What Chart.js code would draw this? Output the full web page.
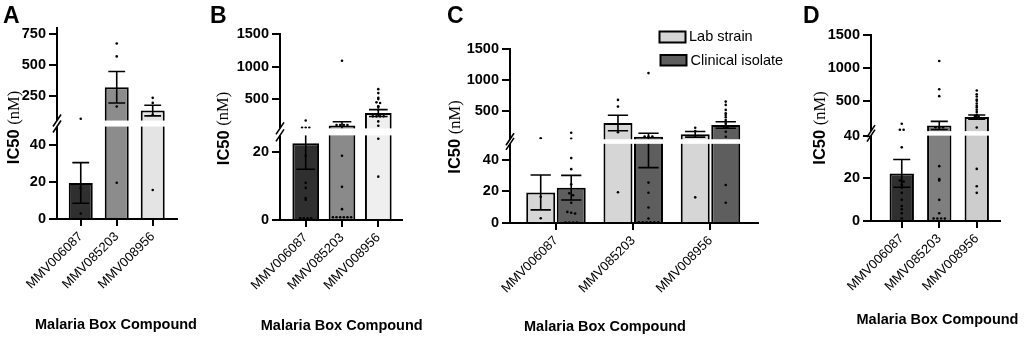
<!DOCTYPE html>
<html>
<head>
<meta charset="utf-8">
<script src="https://cdn.jsdelivr.net/npm/chart.js@4.4.0/dist/chart.umd.min.js"></script>
<style>
html, body { margin: 0; padding: 0; background: #fff; width: 1024px; height: 341px; overflow: hidden; }
canvas { position: absolute; top: 0; }
</style>
</head>
<body>
<script>
const compounds = ["MMV006087", "MMV085203", "MMV008956"];

// A - lab strain
const meanA = [19.5, 320, 131];
const semA = [11, 128, 43];
const dotsA = [[65, 16.6, 3], [675, 570, 164, 19.6], [234, 193, 97, 15.7]];
const ticksA = [0, 20, 40, 250, 500, 750];

// B - clinical isolates
const meanB = [22.7, 95, 285];
const semB = [7.7, 57, 53];
const dotsB = [
    [170, 60, 60, 60, 19, 11, 9.5, 6.5, 6, 0.5, 0.5, 0.5, 0.5],
    [1090, 100, 100, 100, 100, 19, 9.8, 3.2, 0.8, 0.8, 0.8, 0.8, 0.8, 0.8],
    [653, 592, 520, 500, 450, 440, 390, 380, 340, 235, 235, 235, 235, 157, 90, 24, 12.8]
];
const ticksB = [0, 20, 500, 1000, 1500];

// C - both side by side
const seriesC = ["Lab strain", "Clinical isolate"];
const labMeanC = [19.3, 311, 129];
const labSemC = [11, 125, 45];
const labDotsC = [[65, 16.6, 3], [682, 574, 161, 19.4], [235, 180, 103, 16.2]];
const clinMeanC = [22.3, 90, 279];
const clinSemC = [7.8, 55, 53];
const clinDotsC = [
    [155, 55, 41, 34, 24.5, 18.8, 17.5, 12.8, 7, 6.5, 6, 0.3, 0.3, 0.3, 0.3],
    [1113, 95, 95, 95, 25.5, 19.1, 9.8, 2.8, 0.5, 0.5, 0.5, 0.5, 0.5, 0.5],
    [655, 602, 521, 468, 440, 403, 360, 332, 300, 252, 240, 171, 90, 24, 12.8]
];
const ticksC = [0, 20, 40, 500, 1000, 1500];

// D - pooled
const meanD = [22.3, 126, 253];
const semD = [6.5, 62, 33];
const dotsD = [
    [152, 60, 60, 34.5, 19, 18.5, 17, 15.6, 13.2, 9.9, 7, 5.5, 3.6, 1.2],
    [1106, 677, 571, 100, 100, 100, 25.7, 19.6, 19, 9.9, 3.6, 1.2, 1.2, 1.2, 1.2],
    [656, 600, 565, 520, 500, 460, 424, 400, 364, 330, 288, 270, 260, 95, 24.4, 16.3, 13.2]
];
const ticksD = [0, 20, 40, 500, 1000, 1500];

const H = 341;
Chart.defaults.font.family = "'Liberation Sans', Arial, sans-serif";

// y axis with a gap: lower part 0..lowMax, upper part highMin..top
class BrokenScale extends Chart.LinearScale {
    determineDataLimits() {
        this.min = 0;
        this.max = this.options.brk.top;
    }
    buildTicks() {
        return this.options.brk.values.map(v => ({ value: v }));
    }
    segs() {
        const b = this.options.brk;
        const yLow = this.bottom - (this.bottom - this.top) * b.lowFrac;
        return { b, yLow, yHigh: yLow - b.gap };
    }
    getPixelForValue(v) {
        const { b, yLow, yHigh } = this.segs();
        if (v <= b.lowMax) return this.bottom - v / b.lowMax * (this.bottom - yLow);
        if (v < b.highMin) return yLow - (v - b.lowMax) / (b.highMin - b.lowMax) * b.gap;
        return yHigh - (v - b.highMin) / (b.top - b.highMin) * (yHigh - this.top);
    }
    getValueForPixel(p) {
        const { b, yLow, yHigh } = this.segs();
        if (p >= yLow) return (this.bottom - p) / (this.bottom - yLow) * b.lowMax;
        if (p > yHigh) return b.lowMax + (yLow - p) / b.gap * (b.highMin - b.lowMax);
        return b.highMin + (yHigh - p) / (yHigh - this.top) * (b.top - b.highMin);
    }
}
BrokenScale.id = "broken";
BrokenScale.defaults = {};
Chart.register(BrokenScale);

const panels = [
    {
        letter: "A", left: 0, w: 200, area: [57, 177, 28, 219],
        brk: { lowMax: 50, highMin: 50, top: 800, lowFrac: 0.484, gap: 6 }, ticks: ticksA,
        xr: [-0.66, 2.675], catPct: 1, barPct: 0.667, jit: 0.1,
        series: [{ label: "Lab strain", mean: meanA, sem: semA, dots: dotsA, color: ["#2f2f2f", "#8c8c8c", "#e4e4e4"] }],
        letterX: 3, yTitle: [14.7, 127.5], xTitle: [116, 325]
    },
    {
        letter: "B", left: 200, w: 230, area: [80, 202, 34, 220],
        brk: { lowMax: 25, highMin: 50, top: 1500, lowFrac: 0.455, gap: 7 }, ticks: ticksB,
        xr: [-0.708, 2.653], catPct: 1, barPct: 0.735, jit: 0.1,
        series: [{ label: "Clinical isolate", mean: meanB, sem: semB, dots: dotsB, color: ["#2f2f2f", "#8a8a8a", "#efefef"] }],
        letterX: 10, yTitle: [24, 128.5], xTitle: [141.7, 326]
    },
    {
        letter: "C", left: 430, w: 370, area: [80, 328, 49, 223],
        brk: { lowMax: 50, highMin: 50, top: 1500, lowFrac: 0.455, gap: 4.6 }, ticks: ticksC,
        xr: [-0.595, 2.615], catPct: 0.79, barPct: 0.95, jit: 0.05,
        series: [
            { label: seriesC[0], mean: labMeanC, sem: labSemC, dots: labDotsC, color: "#d6d6d6" },
            { label: seriesC[1], mean: clinMeanC, sem: clinSemC, dots: clinDotsC, color: "#5e5e5e" }
        ],
        legend: true,
        letterX: 17, yTitle: [25.7, 137], xTitle: [175, 327]
    },
    {
        letter: "D", left: 800, w: 224, area: [71, 200, 35, 221],
        brk: { lowMax: 40, highMin: 40, top: 1500, lowFrac: 0.459, gap: 4.5 }, ticks: ticksD,
        xr: [-0.82, 2.62], catPct: 1, barPct: 0.65, jit: 0.1,
        series: [{ label: "All", mean: meanD, sem: semD, dots: dotsD, color: ["#2f2f2f", "#7f7f7f", "#cdcdcd"] }],
        letterX: 3, yTitle: [20.7, 128], xTitle: [137.5, 320]
    }
];

// spread points that would sit on top of each other
function spread(vals, brk, step) {
    const key = v => v <= brk.lowMax
        ? "l" + Math.round(v / brk.lowMax * 30)
        : "h" + Math.round((v - brk.highMin) / (brk.top - brk.highMin) * 45);
    const count = {};
    vals.forEach(v => { count[key(v)] = (count[key(v)] || 0) + 1; });
    const seen = {};
    return vals.map(v => {
        const k = key(v);
        const idx = seen[k] = (seen[k] === undefined ? 0 : seen[k] + 1);
        return (idx - (count[k] - 1) / 2) * step;
    });
}

const decor = {
    id: "decor",
    afterDatasetDraw(chart, args) {
        const ds = chart.data.datasets[args.index];
        if (ds.type !== "bar") return;
        const ctx = chart.ctx;
        const y = chart.scales.y;
        ctx.save();
        ctx.strokeStyle = "#000";
        ctx.lineWidth = 1.6;
        args.meta.data.forEach((bar, i) => {
            const m = ds.data[i].y, e = ds.sem[i];
            const y1 = y.getPixelForValue(Math.max(0, m - e));
            const y2 = y.getPixelForValue(m + e);
            const cap = bar.width * 0.35;
            ctx.beginPath();
            ctx.moveTo(bar.x, y1); ctx.lineTo(bar.x, y2);
            ctx.moveTo(bar.x - cap, y1); ctx.lineTo(bar.x + cap, y1);
            ctx.moveTo(bar.x - cap, y2); ctx.lineTo(bar.x + cap, y2);
            ctx.stroke();
        });
        ctx.restore();
    },
    afterDatasetsDraw(chart) {
        const ctx = chart.ctx, a = chart.chartArea;
        const { yLow, yHigh } = chart.scales.y.segs();
        ctx.save();
        ctx.fillStyle = "#fff";
        ctx.fillRect(a.left - 2, yHigh, a.right - a.left + 2, yLow - yHigh);
        ctx.strokeStyle = "#000";
        ctx.lineWidth = 1.6;
        ctx.beginPath();
        [yHigh, yLow].forEach(yy => {
            ctx.moveTo(a.left - 4, yy + 6);
            ctx.lineTo(a.left + 4, yy - 6);
        });
        ctx.stroke();
        ctx.restore();
    },
    afterDraw(chart) {
        const p = chart.options.plugins.decor;
        const ctx = chart.ctx;
        ctx.save();
        ctx.fillStyle = "#000";
        // panel letter
        ctx.font = "bold 23px 'Liberation Sans'";
        ctx.textBaseline = "alphabetic";
        ctx.textAlign = "left";
        ctx.fillText(p.letter, p.letterX, 23);
        // x title
        ctx.font = "bold 14.5px 'Liberation Sans'";
        ctx.textAlign = "center";
        ctx.textBaseline = "middle";
        ctx.fillText("Malaria Box Compound", p.xTitle[0], p.xTitle[1]);
        // y title, two fonts
        const f1 = "bold 16.5px 'Liberation Sans'", f2 = "16.5px 'Liberation Serif'";
        ctx.font = f1; const w1 = ctx.measureText("IC50 ").width;
        ctx.font = f2; const w2 = ctx.measureText("(nM)").width;
        ctx.translate(p.yTitle[0], p.yTitle[1]);
        ctx.rotate(-Math.PI / 2);
        ctx.textAlign = "left";
        ctx.font = f1; ctx.fillText("IC50 ", -(w1 + w2) / 2, 0);
        ctx.font = f2; ctx.fillText("(nM)", -(w1 + w2) / 2 + w1, 0);
        ctx.restore();
        if (p.legend) {
            const boxes = [[229.5, 31.5, 26, 11, 259, 37], [230.5, 55, 26, 10.5, 260.5, 60.5]];
            ctx.save();
            ctx.font = "14.5px 'Liberation Sans'";
            ctx.textBaseline = "middle";
            chart.data.datasets.filter(d => d.type === "bar").forEach((d, k) => {
                const b = boxes[k];
                ctx.fillStyle = d.backgroundColor;
                ctx.fillRect(b[0], b[1], b[2], b[3]);
                ctx.strokeStyle = "#000";
                ctx.lineWidth = 2;
                ctx.strokeRect(b[0], b[1], b[2], b[3]);
                ctx.fillStyle = "#000";
                ctx.fillText(d.label, b[4], b[5]);
            });
            ctx.restore();
        }
    }
};

function makePanel(p) {
    const canvas = document.createElement("canvas");
    canvas.width = p.w;
    canvas.height = H;
    canvas.style.left = p.left + "px";
    document.body.appendChild(canvas);

    const n = p.series.length;
    const datasets = [];
    p.series.forEach((s, k) => {
        const shift = (k - (n - 1) / 2) * p.catPct / n;
        datasets.push({
            type: "bar",
            label: s.label,
            data: s.mean.map((m, i) => ({ x: i, y: m })),
            sem: s.sem,
            backgroundColor: s.color,
            borderColor: "#000",
            borderWidth: 2,
            categoryPercentage: p.catPct,
            barPercentage: p.barPct,
            order: 2
        });
        const pts = [];
        s.dots.forEach((vals, i) => {
            const off = spread(vals, p.brk, p.jit);
            vals.forEach((v, j) => pts.push({ x: i + shift + off[j], y: v }));
        });
        datasets.push({
            type: "scatter",
            data: pts,
            pointRadius: 1.3,
            pointBackgroundColor: "#000",
            pointBorderWidth: 0,
            order: 1
        });
    });

    const axisLine = { display: true, color: "#000", width: 2 };
    new Chart(canvas, {
        type: "bar",
        data: { datasets },
        options: {
            responsive: false,
            animation: false,
            events: [],
            layout: { padding: { left: 0, top: p.area[2], right: p.w - p.area[1], bottom: 0 } },
            plugins: {
                legend: { display: false },
                tooltip: { enabled: false },
                decor: p
            },
            scales: {
                x: {
                    type: "linear",
                    min: p.xr[0],
                    max: p.xr[1],
                    bounds: "data",
                    offset: false,
                    z: 1,
                    afterBuildTicks: s => { s.ticks = compounds.map((c, i) => ({ value: i })); },
                    afterFit: s => { s.height = H - p.area[3]; },
                    grid: { display: true, offset: false, drawOnChartArea: false, drawTicks: true, tickLength: 7, color: "#000", lineWidth: 2 },
                    border: axisLine,
                    ticks: {
                        callback: v => compounds[v],
                        minRotation: 45,
                        maxRotation: 45,
                        autoSkip: false,
                        padding: 3,
                        color: "#000",
                        font: { size: 13 }
                    }
                },
                y: {
                    type: "broken",
                    brk: Object.assign({ values: p.ticks }, p.brk),
                    afterFit: s => { s.width = p.area[0]; },
                    grid: { display: true, drawOnChartArea: false, drawTicks: true, tickLength: 8, color: "#000", lineWidth: 2 },
                    border: axisLine,
                    ticks: {
                        callback: v => String(v),
                        autoSkip: false,
                        padding: 3,
                        color: "#000",
                        font: { size: 14.5, weight: "bold" }
                    }
                }
            }
        },
        plugins: [decor]
    });
}

panels.forEach(makePanel);
</script>
</body>
</html>
